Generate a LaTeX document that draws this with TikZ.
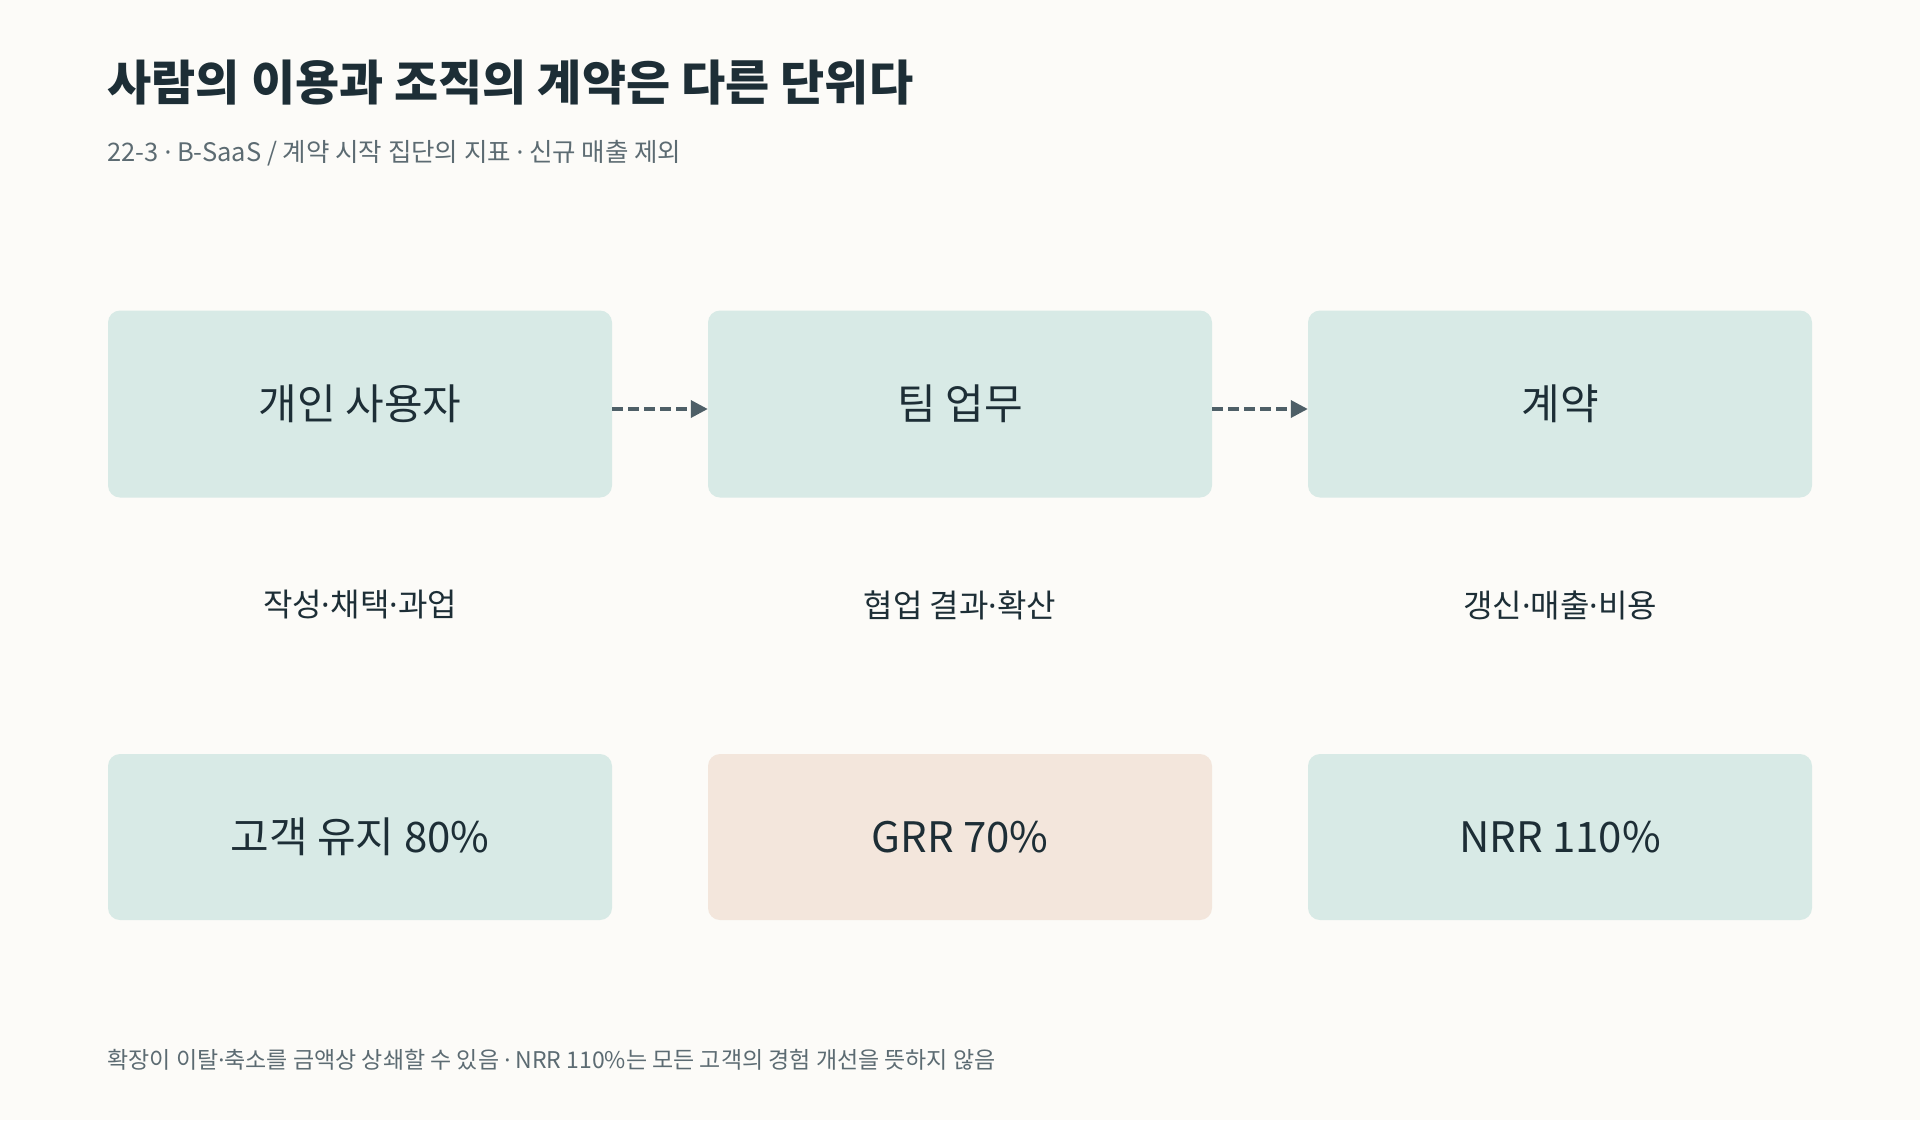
\documentclass[tikz,border=0pt]{standalone}
\usepackage{fontspec}
\setmainfont{Noto Sans CJK KR}
\newfontfamily\dotfont{Noto Sans}
\newcommand{\md}{{\dotfont ·}}
\usepackage{tikz}
\usetikzlibrary{arrows.meta}
\definecolor{paper}{RGB}{252, 251, 248}
\definecolor{ink}{RGB}{29, 46, 54}
\definecolor{muted}{RGB}{92, 107, 114}
\definecolor{mint}{RGB}{216, 234, 230}
\definecolor{peach}{RGB}{243, 230, 220}
\definecolor{arrowgray}{RGB}{78, 95, 103}

\tikzset{
  card/.style={rounded corners=12, minimum width=504, minimum height=187,
               fill=mint, text=ink, inner sep=0, font=\fontsize{42}{48}\selectfont},
  metric/.style={card, minimum height=166},
  tag/.style={text=ink, font=\fontsize{32}{38}\selectfont},
  flow/.style={draw=arrowgray, line width=3.5, dash pattern=on 11 off 5,
               -{Triangle[length=17, width=17]}}
}

\begin{document}
\begin{tikzpicture}[x=1pt, y=-1pt]
  \fill [color=paper] (0, 0) rectangle (1920, 1120);
  \useasboundingbox (0, 0) rectangle (1920, 1120);

  \node [anchor=west, text=ink, font=\fontsize{48}{56}\selectfont\bfseries] (title) at (104, 83)
  {사람의 이용과 조직의 계약은 다른 단위다};
  \node [anchor=west, text=muted, font=\fontsize{25.5}{30}\selectfont] (subtitle) at (104, 153)
  {22-3 \md{} B-SaaS / 계약 시작 집단의 지표 \md{} 신규 매출 제외};

  % units
  \node [card] (user) at (360, 404) {개인 사용자};
  \node [card] (team) at (960, 404) {팀 업무};
  \node [card] (contract) at (1560, 404) {계약};

  \draw [flow] ([yshift=-5]user.east) -- ([yshift=-5]team.west);
  \draw [flow] ([yshift=-5]team.east) -- ([yshift=-5]contract.west);

  \node [tag] (userlbl) at (360, 605) {작성\md 채택\md 과업};
  \node [tag] (teamlbl) at (960, 605) {협업 결과\md 확산};
  \node [tag] (contractlbl) at (1560, 605) {갱신\md 매출\md 비용};

  % metrics
  \node [metric] (retain) at (360, 837) {고객 유지 80\%};
  \node [metric, fill=peach] (grr) at (960, 837) {GRR 70\%};
  \node [metric] (nrr) at (1560, 837) {NRR 110\%};

  \node [anchor=west, text=muted, font=\fontsize{23}{28}\selectfont] (note) at (104, 1060)
  {확장이 이탈\md 축소를 금액상 상쇄할 수 있음 \md{} NRR 110\%는 모든 고객의 경험 개선을 뜻하지 않음};
\end{tikzpicture}
\end{document}
